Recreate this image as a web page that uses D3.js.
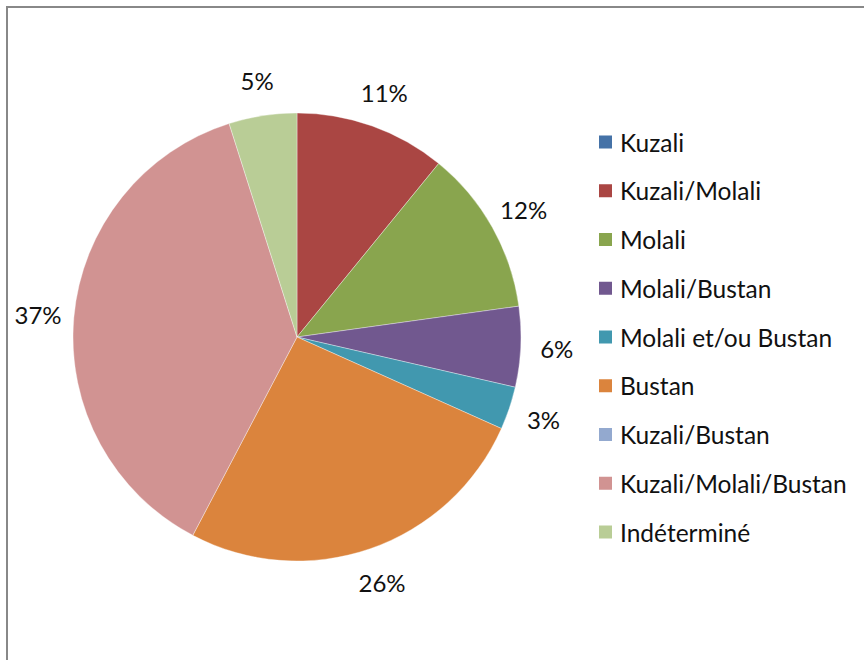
<!DOCTYPE html>
<html>
<head>
<meta charset="utf-8">
<script src="https://cdn.jsdelivr.net/npm/d3@7"></script>
<style>
  html, body { margin: 0; padding: 0; background: #fff; }
  svg { display: block; }
  text { font-family: Lato, "Noto Sans", sans-serif; fill: #111; }
</style>
</head>
<body>
<svg id="chart" width="864" height="660"></svg>
<script>
const categories = ["Kuzali", "Kuzali/Molali", "Molali", "Molali/Bustan", "Molali et/ou Bustan", "Bustan", "Kuzali/Bustan", "Kuzali/Molali/Bustan", "Indéterminé"];
const values = [0, 10.9, 11.9, 5.8, 3.1, 26.0, 0, 37.4, 4.9];
const colors = ["#4572A7", "#AA4643", "#89A54E", "#71588F", "#4198AF", "#DB843D", "#93A9CF", "#D19392", "#B9CD96"];

const svg = d3.select("#chart");
const W = 864, H = 660;

// frame
svg.append("path")
  .attr("d", `M7,${H + 5} L7,7 L${W + 5},7`)
  .attr("fill", "none").attr("stroke", "#888").attr("stroke-width", 2);

const cx = 297, cy = 337, r = 224;
const total = d3.sum(values);
const data = categories.map((c, i) => ({ name: c, value: values[i], color: colors[i] }));

const pie = d3.pie().value(d => d.value).sort(null);
const arcs = pie(data);
const arc = d3.arc().innerRadius(0).outerRadius(r);
const labelArc = d3.arc().innerRadius(260).outerRadius(260);

const g = svg.append("g").attr("transform", `translate(${cx},${cy})`);
g.selectAll("path.slice").data(arcs.filter(a => a.data.value > 0)).join("path")
  .attr("class", "slice")
  .attr("d", arc)
  .attr("fill", d => d.data.color)
  .attr("stroke", "#fff").attr("stroke-width", 0.6).attr("stroke-opacity", 0.6);

g.selectAll("text.lbl").data(arcs.filter(a => a.data.value > 0)).join("text")
  .attr("class", "lbl")
  .attr("transform", d => `translate(${labelArc.centroid(d)})`)
  .attr("text-anchor", "middle")
  .attr("dominant-baseline", "central")
  .style("font-size", "24px")
  .text(d => Math.round(d.data.value / total * 100) + "%");

// legend
const legY = d3.scalePoint().domain(categories).range([142, 532]);
const leg = svg.append("g");
const items = leg.selectAll("g").data(data).join("g")
  .attr("transform", d => `translate(599,${legY(d.name)})`);
items.append("rect").attr("x", 0).attr("y", -6.5).attr("width", 13).attr("height", 13)
  .attr("fill", d => d.color);
items.append("text").attr("x", 21).attr("y", 0)
  .attr("dominant-baseline", "central")
  .style("font-size", "24.5px")
  .text(d => d.name);
</script>
</body>
</html>
